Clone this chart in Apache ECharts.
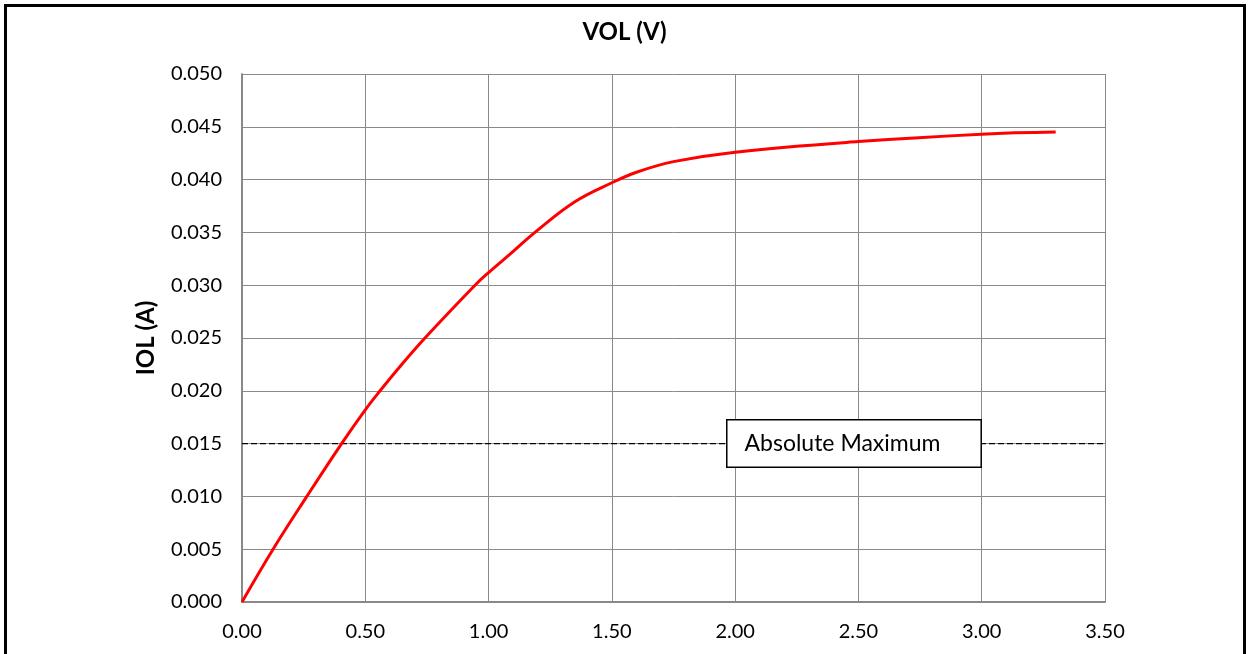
<!DOCTYPE html>
<html><head><meta charset="utf-8">
<script src="https://cdn.jsdelivr.net/npm/echarts@6/dist/echarts.min.js"></script>
<style>
html,body{margin:0;padding:0;background:#fff;overflow:hidden;}
#frame{position:absolute;left:4px;top:4px;width:1242px;height:700px;border:3px solid #000;box-sizing:border-box;pointer-events:none;z-index:5;}
#chart{position:absolute;left:0;top:0;width:1249px;height:654px;}
</style></head>
<body>
<div id="chart"></div>
<div id="frame"></div>
<script>
const vol = [0, 0.126, 0.263, 0.404, 0.5, 0.56, 0.641, 0.742, 0.945, 1.0, 1.1, 1.188, 1.35, 1.5, 1.6, 1.75, 2.0, 2.5, 3.0, 3.3];
const iol = [0, 0.005, 0.010, 0.015, 0.0182, 0.020, 0.0223, 0.025, 0.030, 0.0312, 0.0332, 0.035, 0.0379, 0.0397, 0.0407, 0.0417, 0.0426, 0.0436, 0.0443, 0.0445];
const absMax = 0.015;
const absMaxLabel = 'Absolute Maximum';
const absMaxLabelX = 2.482;
const titleText = 'VOL (V)';
const yName = 'IOL (A)';

const font = 'Lato, "Open Sans", sans-serif';
const chart = echarts.init(document.getElementById('chart'));
chart.setOption({
  animation: false,
  backgroundColor: '#fff',
  title: {text: titleText, left: 'center', top: 15,
    textStyle: {fontFamily: font, fontSize: 24, fontWeight: 'bold', color: '#000'}},
  grid: {left: 242, right: 144, top: 74, bottom: 52},
  xAxis: {type: 'value', min: 0, max: 3.5, interval: 0.5,
    axisLine: {show: true, lineStyle: {color: '#898989', width: 2}},
    axisTick: {show: false},
    axisLabel: {margin: 20, fontFamily: font, fontSize: 20, color: '#000', formatter: v => v.toFixed(2)},
    splitLine: {show: true, lineStyle: {color: '#898989', width: 1}}},
  yAxis: {type: 'value', min: 0, max: 0.05, interval: 0.005,
    name: yName, nameLocation: 'middle', nameGap: 84, nameRotate: 90,
    nameTextStyle: {fontFamily: font, fontSize: 24, fontWeight: 'bold', color: '#000'},
    axisLine: {show: true, lineStyle: {color: '#898989', width: 2}},
    axisTick: {show: false},
    axisLabel: {margin: 20, fontFamily: font, fontSize: 20, color: '#000', formatter: v => v.toFixed(3)},
    splitLine: {show: true, lineStyle: {color: '#898989', width: 1}}},
  series: [
    {type: 'line', data: vol.map((v, i) => [v, iol[i]]), smooth: 0.4, showSymbol: false,
     lineStyle: {color: '#ff0000', width: 3}, z: 4},
    {type: 'line', data: [[0, absMax], [3.5, absMax]], showSymbol: false,
     lineStyle: {color: '#000', width: 1.2, type: [6, 3]}, z: 3,
     markPoint: {symbol: 'rect', symbolSize: 0, silent: true,
       data: [{coord: [absMaxLabelX, absMax]}],
       label: {show: true, position: 'inside', formatter: absMaxLabel,
         fontFamily: font, fontSize: 23, lineHeight: 24, color: '#000', backgroundColor: '#fff',
         borderColor: '#000', borderWidth: 1.5, padding: [11, 40, 11, 17]}}}
  ]
});
</script>
</body></html>
